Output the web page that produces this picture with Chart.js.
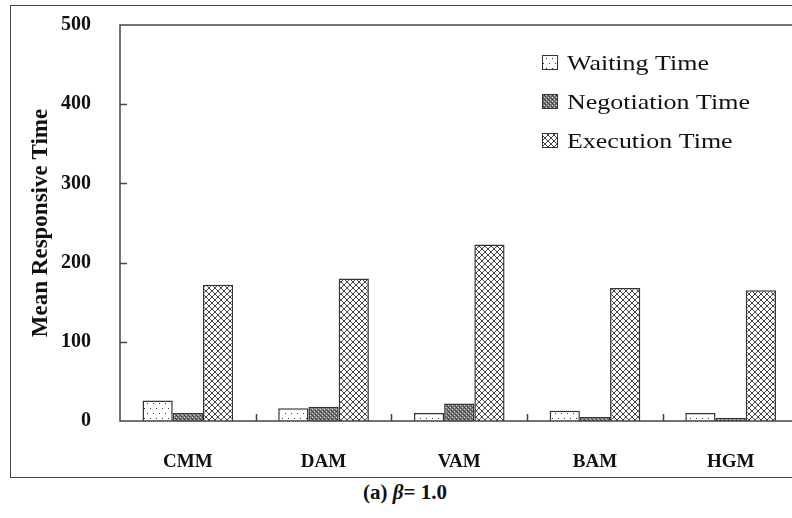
<!DOCTYPE html>
<html>
<head>
<meta charset="utf-8">
<script src="https://cdn.jsdelivr.net/npm/chart.js@4.4.1/dist/chart.umd.min.js"></script>
<style>
  html, body { margin: 0; padding: 0; background: #fff; overflow: hidden; width: 792px; height: 518px; }
  .figure { position: absolute; left: 10px; top: 5px; width: 800px; height: 471px; border: 1px solid #444; }
  .figure canvas { display: block; }
  .caption { position: absolute; left: 0; width: 810px; top: 480px; text-align: center;
             font: bold 21px "Liberation Serif", serif; color: #111; }
</style>
</head>
<body>
<div class="figure"><canvas id="respChart" width="800" height="471"></canvas></div>
<div class="caption">(a) <i>β</i>= 1.0</div>

<script>
const methods = ['CMM', 'DAM', 'VAM', 'BAM', 'HGM'];
const waitingTime = [26, 16, 10, 13, 10];
const negotiationTime = [10, 18, 22, 5, 4];
const executionTime = [172, 180, 223, 168, 165];
const yTickValues = [0, 100, 200, 300, 400, 500];

const serif = '"Liberation Serif", "Times New Roman", serif';

// small tiled fills like the old Excel patterns
function makePattern(kind) {
    const c = document.createElement('canvas');
    const g = c.getContext('2d');
    if (kind === 'dots') {
        c.width = 6; c.height = 10;
        g.fillStyle = '#fff'; g.fillRect(0, 0, 6, 10);
        g.fillStyle = '#333';
        g.fillRect(1, 2, 1, 1);
        g.fillRect(4, 7, 1, 1);
    } else if (kind === 'dense') {
        c.width = 4; c.height = 4;
        g.fillStyle = '#777'; g.fillRect(0, 0, 4, 4);
        g.fillStyle = '#3a3a3a';
        g.fillRect(0, 0, 1, 1); g.fillRect(2, 2, 1, 1); g.fillRect(1, 1, 1, 1);
        g.fillStyle = '#d8d8d8';
        g.fillRect(1, 3, 1, 1); g.fillRect(3, 1, 1, 1);
    } else {
        c.width = 6; c.height = 6;
        g.fillStyle = '#fff'; g.fillRect(0, 0, 6, 6);
        g.strokeStyle = '#444'; g.lineWidth = 1;
        g.beginPath();
        g.moveTo(0, 0); g.lineTo(6, 6);
        g.moveTo(6, 0); g.lineTo(0, 6);
        g.stroke();
    }
    return g.createPattern(c, 'repeat');
}

const ctx = document.getElementById('respChart').getContext('2d');
const fills = [makePattern('dots'), makePattern('dense'), makePattern('cross')];

// axes box, inner tick marks and the legend inside the plot
const framePlugin = {
    id: 'frame',
    afterDraw(chart) {
        const c = chart.ctx;
        const ca = chart.chartArea;
        const x = chart.scales.x;
        const y = chart.scales.y;
        c.save();
        c.strokeStyle = '#444';
        c.lineWidth = 1.5;
        c.strokeRect(ca.left, ca.top, ca.right - ca.left, ca.bottom - ca.top);

        c.beginPath();
        yTickValues.slice(1, -1).forEach(v => {
            const py = Math.round(y.getPixelForValue(v)) + 0.5;
            c.moveTo(ca.left, py);
            c.lineTo(ca.left + 7, py);
        });
        for (let i = 0; i < methods.length - 1; i++) {
            const px = Math.round((x.getPixelForTick(i) + x.getPixelForTick(i + 1)) / 2) + 0.5;
            c.moveTo(px, ca.bottom);
            c.lineTo(px, ca.bottom - 7);
        }
        c.stroke();

        // legend
        const lx = ca.left + 422;
        const ly = ca.top + 30;
        chart.data.datasets.forEach((ds, i) => {
            const top = ly + i * 39;
            c.fillStyle = ds.backgroundColor;
            c.fillRect(lx, top, 16, 15);
            c.lineWidth = 1;
            c.strokeStyle = '#333';
            c.strokeRect(lx + 0.5, top + 0.5, 15, 14);
            c.save();
            c.translate(lx + 25, top + 15);
            c.scale(1.18, 1);
            c.fillStyle = '#111';
            c.font = '22px ' + serif;
            c.textBaseline = 'alphabetic';
            c.fillText(ds.label, 0, 0);
            c.restore();
        });
        c.restore();
    }
};

new Chart(ctx, {
    type: 'bar',
    data: {
        labels: methods,
        datasets: [
            { label: 'Waiting Time', data: waitingTime, backgroundColor: fills[0] },
            { label: 'Negotiation Time', data: negotiationTime, backgroundColor: fills[1] },
            { label: 'Execution Time', data: executionTime, backgroundColor: fills[2] }
        ].map(ds => Object.assign(ds, {
            borderColor: '#333',
            borderWidth: 1.5,
            categoryPercentage: 0.668,
            barPercentage: 1.0
        }))
    },
    options: {
        responsive: false,
        animation: false,
        devicePixelRatio: 1,
        layout: { padding: { top: 19, right: 12.5, left: 0, bottom: 0 } },
        plugins: {
            legend: { display: false },
            tooltip: { enabled: false }
        },
        scales: {
            x: {
                grid: { display: false, drawTicks: false },
                border: { display: false },
                ticks: {
                    color: '#111',
                    padding: 30,
                    font: { family: serif, size: 19, weight: 'bold' }
                },
                afterFit: s => {
                    s.height = 56;
                    s.paddingLeft = 0;
                    s.paddingRight = 0;
                }
            },
            y: {
                min: 0,
                max: 500,
                grid: { display: false, drawTicks: false },
                border: { display: false },
                afterBuildTicks: s => { s.ticks = yTickValues.map(v => ({ value: v })); },
                ticks: {
                    color: '#111',
                    padding: 29,
                    font: { family: serif, size: 20, weight: 'bold' }
                },
                title: {
                    display: true,
                    text: 'Mean Responsive Time',
                    color: '#111',
                    padding: { top: 16, bottom: 0 },
                    font: { family: serif, size: 23, weight: 'bold' }
                },
                afterFit: s => {
                    s.width = 109;
                    s.paddingTop = 0;
                    s.paddingBottom = 0;
                }
            }
        }
    },
    plugins: [framePlugin]
});
</script>
</body>
</html>
